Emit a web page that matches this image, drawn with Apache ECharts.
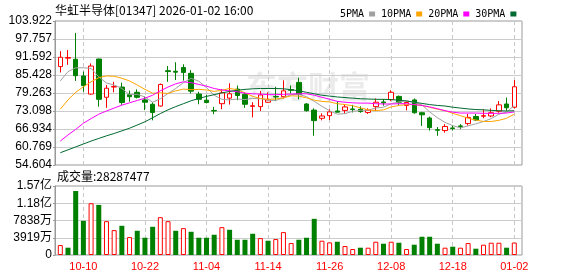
<!DOCTYPE html>
<html><head><meta charset="utf-8">
<script src="https://cdn.jsdelivr.net/npm/echarts@6/dist/echarts.min.js"></script>
<style>html,body{margin:0;padding:0;background:#fff}#c{width:578px;height:276px}</style>
</head><body><div id="c"></div>
<script>
const titleText = '华虹半导体[01347] 2026-01-02 16:00';
const volumeTitle = '成交量:28287477';
const watermarkText = '东方财富';
const dates = ['10-06','10-08','10-09','10-10','10-13','10-14','10-15','10-16','10-17','10-20',
  '10-21','10-22','10-23','10-24','10-27','10-28','10-30','10-31','11-03','11-04',
  '11-05','11-06','11-07','11-10','11-11','11-12','11-13','11-14','11-17','11-18',
  '11-19','11-20','11-21','11-24','11-25','11-26','11-27','11-28','12-01','12-02',
  '12-03','12-04','12-05','12-08','12-09','12-10','12-11','12-12','12-15','12-16',
  '12-17','12-18','12-19','12-22','12-23','12-24','12-29','12-30','12-31','01-02'];
const opens = [88.3,91.2,90.8,85.1,78.9,90.9,77.8,81.3,81.3,78.7,
  79.5,76.9,75.4,74.8,86.9,86.7,88.0,86.0,78.9,76.8,
  73.3,75.6,77.5,80.6,78.8,74.7,74.6,76.1,78.1,78.0,
  80.4,82.9,75.5,73.4,70.6,71.5,73.1,73.3,73.8,73.7,
  72.6,74.6,76.2,77.0,78.1,75.0,76.9,72.5,70.7,66.7,
  66.4,67.3,68.0,68.8,71.2,71.3,71.4,73.0,75.5,74.4];
const closes = [91.5,91.4,85.2,81.8,88.5,77.1,80.9,81.5,76.0,78.0,
  77.8,76.1,72.6,82.2,86.6,86.4,86.3,79.9,77.1,76.0,
  73.1,79.3,79.0,78.4,75.4,74.9,78.6,76.9,77.9,80.0,
  80.2,78.8,73.2,69.8,71.4,72.8,72.7,74.5,73.6,72.9,
  73.4,76.1,75.9,79.5,76.1,76.0,72.5,71.8,67.4,66.5,
  67.8,67.1,67.8,70.9,70.0,71.5,72.5,75.2,74.2,81.4];
const lows = [86.3,88.9,83.4,79.7,78.6,74.6,74.2,79.5,75.2,76.3,
  77.4,73.4,69.9,74.6,83.1,83.7,83.5,79.1,75.4,75.7,
  72.0,73.7,75.3,76.8,74.2,70.9,73.1,75.9,76.5,77.4,
  79.1,77.1,72.9,64.6,69.9,70.0,72.6,72.1,72.6,72.5,
  72.1,73.2,74.9,76.5,75.2,73.3,72.2,68.0,66.4,64.6,
  65.7,66.4,66.9,68.1,69.7,70.6,71.0,72.5,73.2,74.0];
const highs = [93.6,94.0,99.8,86.6,89.4,91.0,82.0,83.1,82.8,80.1,
  80.5,78.0,76.1,82.5,88.5,89.8,89.1,87.1,79.7,78.6,
  74.5,80.6,82.6,81.8,79.5,76.1,80.0,79.5,81.4,83.6,
  81.8,84.5,75.8,74.0,72.3,73.7,76.5,75.4,75.2,74.7,
  74.0,77.4,77.2,80.2,78.4,76.3,77.4,72.8,71.2,67.6,
  68.6,68.3,68.6,72.1,72.1,73.7,74.0,76.5,77.7,83.7];
const volumes = [22610000,16580000,145460000,77630000,117580000,113810000,76880000,56530000,66330000,40700000,
  55020000,39190000,64060000,85920000,76880000,55020000,61050000,52760000,39190000,39190000,
  45980000,63310000,57280000,34670000,34670000,48240000,38440000,32410000,36180000,52010000,
  27130000,34670000,39190000,82150000,32410000,28640000,30150000,20350000,13570000,16580000,
  16580000,30150000,25630000,30150000,27890000,13570000,23360000,41450000,41450000,25630000,
  16580000,18840000,16580000,27130000,14320000,23360000,27890000,27890000,16580000,28287477];
const volumeUp = [1,0,0,0,1,0,1,1,0,1,
  0,0,0,1,1,0,1,0,0,0,
  0,1,0,0,0,0,1,0,1,1,
  1,0,0,0,1,1,0,1,1,0,
  1,1,0,1,0,1,0,0,0,0,
  1,0,1,1,0,1,1,1,0,1];
const ma5 = [83.4,86.6,87.9,87.9,87.7,84.8,82.7,82.0,80.8,78.7,
  78.8,77.9,76.1,77.3,79.1,80.8,82.8,84.3,83.3,81.1,
  78.5,77.1,76.9,77.2,77.0,77.4,77.3,76.8,76.7,77.7,
  78.7,78.8,78.0,76.4,74.7,73.2,72.0,72.2,73.0,73.3,
  73.4,74.1,74.4,75.6,76.2,76.7,76.0,75.2,72.8,70.8,
  69.2,68.1,67.3,68.0,68.7,69.5,70.5,72.0,72.7,75.0];
const ma10 = [73.7,76.9,79.5,81.4,83.1,84.5,85.1,85.0,84.3,83.4,
  82.0,80.5,79.2,79.3,79.1,80.0,80.6,80.4,80.5,80.3,
  79.8,80.2,80.8,80.4,79.3,78.1,77.4,77.1,77.2,77.6,
  78.3,78.2,77.6,76.8,76.4,76.2,75.6,75.3,74.9,74.2,
  73.5,73.2,73.5,74.5,75.0,75.3,75.3,75.0,74.4,73.7,
  73.2,72.3,71.5,70.6,70.0,69.5,69.5,69.9,70.6,72.0];
const ma20 = [62.8,64.9,66.8,68.9,70.5,72.0,73.1,74.1,75.1,75.9,
  76.7,77.5,78.5,80.0,81.3,82.4,83.1,82.8,82.2,81.6,
  80.8,80.3,80.0,79.7,79.2,79.0,78.9,78.7,78.7,78.8,
  78.9,79.0,79.0,78.5,77.8,77.1,76.4,76.1,75.9,75.8,
  75.8,75.6,75.5,75.5,75.6,75.6,75.3,75.0,74.5,73.9,
  73.2,72.7,72.4,72.4,72.4,72.3,72.3,72.3,72.4,72.8];
const ma30 = [58.8,59.8,60.8,61.8,62.8,63.7,64.6,65.4,66.3,67.2,
  68.3,69.4,70.8,72.2,73.5,74.6,75.6,76.6,77.4,78.1,
  78.7,79.3,79.8,80.2,80.5,80.7,80.8,80.8,80.8,80.7,
  80.4,80.0,79.5,79.0,78.5,78.2,77.9,77.7,77.5,77.3,
  77.2,77.1,77.1,77.0,76.8,76.5,76.1,75.7,75.3,75.0,
  74.8,74.4,74.1,73.8,73.6,73.5,73.3,73.2,73.1,73.2];
const maNames = ['5PMA','10PMA','20PMA','30PMA'];
const xTickLabels = ['10-10','10-22','11-04','11-14','11-26','12-08','12-18','01-02'];
const priceTickLabels = ['54.604','60.769','66.934','73.098','79.263','85.428','91.592','97.757','103.922'];
const volumeTickValues = [0,39190000,78380000,117570000,156760000];
const volumeTickLabels = ['0','3919万','7838万','1.18亿','1.57亿'];

const RED = '#ff0000', GREEN = '#008000';
const maColors = ['#a0a0a0','#ffa500','#ff00ff','#006a30'];
const maData = [ma5, ma10, ma20, ma30];
const showDate = (idx, val) => xTickLabels.indexOf(val) >= 0;

const chart = echarts.init(document.getElementById('c'), null, {renderer: 'canvas'});
const option = {
  animation: false,
  backgroundColor: '#ffffff',
  legend: {
    left: 335, top: 4, icon: 'rect', itemWidth: 6, itemHeight: 5, itemGap: 6, align: 'right',
    selectedMode: false, data: maNames,
    textStyle: {fontFamily: 'DejaVu Sans Mono', fontSize: 10, color: '#000'}
  },
  grid: [
    {left: 55, right: 56, top: 21, height: 144, show: true, borderColor: '#999', borderWidth: 1, backgroundColor: 'transparent'},
    {left: 60.3, right: 63.7, top: 21, height: 144},
    {left: 55, right: 56, top: 186, height: 69, show: true, borderColor: '#999', borderWidth: 1, backgroundColor: 'transparent'},
    {left: 60.3, right: 63.7, top: 186, height: 69}
  ],
  xAxis: [
    {gridIndex: 0, type: 'value', show: false, min: 0, max: 1},
    {gridIndex: 1, type: 'category', data: dates, boundaryGap: false,
      axisLine: {show: false}, axisTick: {show: false}, axisLabel: {show: false},
      splitLine: {show: true, interval: showDate, lineStyle: {color: '#c8c8c8', type: [4, 3], width: 1}}},
    {gridIndex: 2, type: 'value', show: false, min: 0, max: 1},
    {gridIndex: 3, type: 'category', data: dates, boundaryGap: false,
      axisLine: {show: false}, axisTick: {show: false},
      axisLabel: {show: true, interval: showDate, color: RED, fontSize: 11, margin: 6, fontFamily: 'Liberation Sans'},
      splitLine: {show: true, interval: showDate, lineStyle: {color: '#c8c8c8', type: [4, 3], width: 1}}}
  ],
  yAxis: [
    {gridIndex: 0, type: 'value', min: 0, max: priceTickLabels.length - 1, interval: 1,
      axisLine: {show: true, lineStyle: {color: '#999'}},
      axisTick: {show: true, length: 2, lineStyle: {color: '#999'}},
      axisLabel: {formatter: v => priceTickLabels[Math.round(v)], color: '#000', fontSize: 12, margin: 3, fontFamily: 'Liberation Sans'},
      splitLine: {show: true, lineStyle: {color: '#cccccc', width: 1}}},
    {gridIndex: 1, type: 'value', show: false, min: +priceTickLabels[0], max: +priceTickLabels[priceTickLabels.length - 1], splitLine: {show: false}},
    {gridIndex: 2, type: 'value', min: volumeTickValues[0], max: volumeTickValues[volumeTickValues.length - 1], interval: volumeTickValues[1],
      axisLine: {show: true, lineStyle: {color: '#999'}},
      axisTick: {show: true, length: 2, lineStyle: {color: '#999'}},
      axisLabel: {formatter: v => volumeTickLabels[Math.round(v / volumeTickValues[1])], color: '#000', fontSize: 12, margin: 3, fontFamily: 'Liberation Sans, Noto Sans CJK SC'},
      splitLine: {show: true, lineStyle: {color: '#cccccc', width: 1}}},
    {gridIndex: 3, type: 'value', show: false, min: volumeTickValues[0], max: volumeTickValues[volumeTickValues.length - 1], splitLine: {show: false}}
  ],
  graphic: [
    {type: 'text', z: 0, style: {text: watermarkText, x: 246, y: 86, verticalAlign: 'middle', textVerticalAlign: 'middle',
      font: 'bold 31px "Noto Sans CJK SC"', fill: 'rgba(0,0,0,0.08)'}},
    {type: 'text', z: 10, style: {text: titleText, x: 55, y: 10, verticalAlign: 'middle', textVerticalAlign: 'middle',
      font: '12px "Noto Sans CJK SC"', fill: '#000'}},
    {type: 'text', z: 10, style: {text: volumeTitle, x: 57, y: 176, verticalAlign: 'middle', textVerticalAlign: 'middle',
      font: '12px "Noto Sans CJK SC"', fill: '#000'}}
  ],
  series: [
    {type: 'candlestick', xAxisIndex: 1, yAxisIndex: 1, barWidth: 5, clip: false, z: 2,
      data: dates.map((d, i) => [opens[i], closes[i], lows[i], highs[i]]),
      itemStyle: {color: '#ffffff', color0: GREEN, borderColor: RED, borderColor0: GREEN, borderWidth: 1}},
    ...maNames.map((n, k) => ({
      type: 'line', name: n, xAxisIndex: 1, yAxisIndex: 1, data: maData[k], symbol: 'none', showSymbol: false,
      z: 3, clip: false, lineStyle: {width: 1, color: maColors[k]}, itemStyle: {color: maColors[k]}
    })),
    {type: 'bar', xAxisIndex: 3, yAxisIndex: 3, barWidth: 5, clip: false,
      data: volumes.map((v, i) => ({value: v, itemStyle: volumeUp[i]
        ? {color: '#ffffff', borderColor: RED, borderWidth: 1}
        : {color: GREEN, borderColor: GREEN, borderWidth: 0}}))}
  ]
};
chart.setOption(option);
</script></body></html>
